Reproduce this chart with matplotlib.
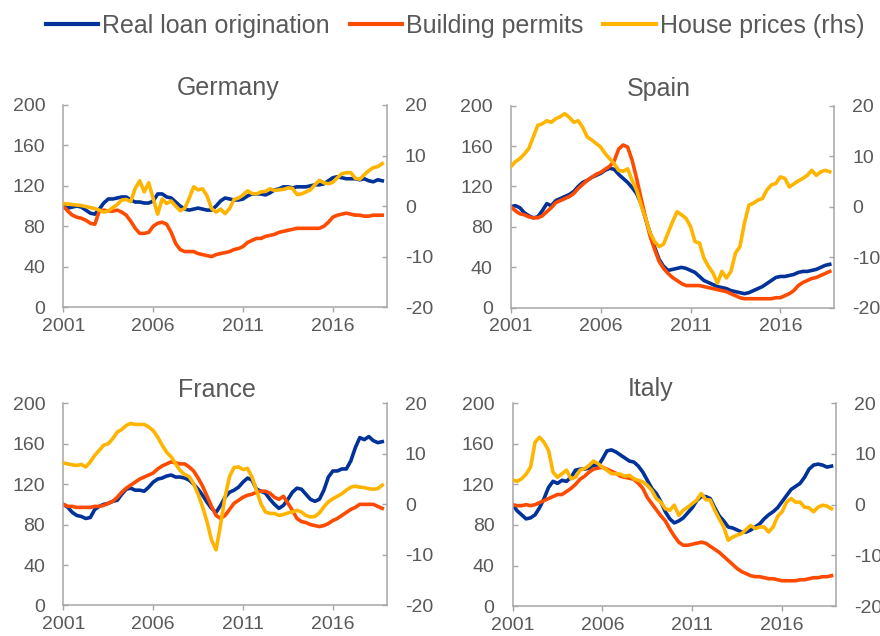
import matplotlib.pyplot as plt
import numpy as np

# quarterly observations, 2001Q1 .. 2018Q4
dates = 2001 + np.arange(72) / 4

countries = ["Germany", "Spain", "France", "Italy"]

# Real loan origination (index, lhs)
de_loans = [100, 98, 99, 100, 99, 96, 93, 92, 97, 103, 107, 107,
            108, 109, 109, 106, 104, 104, 103, 103, 105, 112, 112, 109,
            108, 104, 100, 97, 96, 97, 98, 97, 96, 96, 100, 105,
            108, 107, 106, 106, 107, 110, 112, 112, 112, 111, 113, 116,
            117, 119, 119, 118, 119, 119, 119, 120, 121, 121, 122, 125,
            128, 129, 128, 127, 127, 127, 126, 127, 125, 124, 126, 125]
es_loans = [100, 101, 99, 94, 91, 89, 90, 96, 103, 101, 106, 108,
            110, 112, 115, 120, 124, 126, 129, 131, 133, 136, 138, 137,
            132, 128, 124, 119, 113, 103, 88, 74, 60, 48, 41, 37,
            38, 39, 40, 39, 37, 35, 31, 27, 25, 23, 21, 20,
            19, 17, 16, 15, 14, 15, 17, 19, 21, 24, 27, 30,
            31, 31, 32, 33, 35, 36, 36, 37, 38, 40, 42, 43]
fr_loans = [100, 97, 92, 89, 88, 86, 87, 95, 98, 100, 101, 103,
            104, 110, 115, 116, 114, 114, 113, 117, 122, 125, 126, 128,
            129, 127, 127, 126, 124, 120, 115, 109, 102, 96, 92, 99,
            107, 112, 114, 117, 122, 126, 124, 115, 113, 111, 105, 100,
            96, 99, 105, 112, 116, 115, 110, 105, 103, 105, 114, 127,
            133, 133, 135, 135, 143, 156, 166, 164, 167, 163, 161, 162]
it_loans = [100, 94, 90, 86, 87, 90, 97, 106, 117, 123, 121, 124,
            123, 127, 134, 135, 135, 136, 139, 138, 145, 153, 154, 152,
            149, 146, 143, 142, 138, 132, 124, 116, 111, 103, 93, 86,
            82, 84, 87, 92, 97, 104, 108, 108, 106, 97, 89, 84,
            78, 77, 75, 73, 73, 75, 78, 81, 86, 90, 93, 97,
            103, 109, 115, 118, 121, 127, 135, 139, 140, 139, 137, 138]

# Building permits (index, lhs)
de_permits = [100, 95, 91, 89, 88, 86, 83, 82, 95, 96, 95, 95,
              96, 94, 91, 85, 78, 73, 73, 74, 80, 83, 84, 82,
              74, 63, 57, 55, 55, 55, 53, 52, 51, 50, 52, 53,
              54, 55, 57, 58, 60, 64, 66, 68, 68, 70, 71, 72,
              74, 75, 76, 77, 78, 78, 78, 78, 78, 78, 80, 84,
              89, 91, 92, 93, 92, 91, 91, 90, 90, 91, 91, 91]
es_permits = [100, 96, 93, 92, 90, 89, 89, 91, 95, 99, 104, 106,
              108, 110, 113, 118, 122, 126, 129, 132, 134, 137, 140, 145,
              157, 161, 159, 146, 128, 108, 89, 71, 58, 46, 39, 34,
              30, 27, 24, 22, 22, 22, 22, 21, 20, 19, 18, 17,
              16, 14, 12, 10, 9, 9, 9, 9, 9, 9, 9, 10,
              10, 12, 14, 17, 22, 25, 27, 29, 30, 32, 34, 36]
fr_permits = [100, 98, 98, 97, 97, 97, 97, 98, 98, 99, 101, 103,
              107, 112, 116, 119, 122, 125, 127, 129, 131, 135, 138, 140,
              142, 141, 140, 140, 137, 133, 126, 118, 108, 98, 89, 86,
              89, 95, 101, 104, 107, 109, 110, 112, 113, 113, 111, 107,
              105, 108, 101, 94, 86, 83, 82, 80, 79, 78, 79, 81,
              84, 86, 89, 92, 95, 97, 100, 100, 100, 100, 98, 96]
it_permits = [100, 99, 99, 100, 99, 100, 102, 104, 106, 108, 110, 110,
              113, 116, 120, 125, 128, 132, 135, 136, 137, 135, 133, 131,
              128, 127, 126, 125, 121, 116, 107, 101, 95, 89, 84, 76,
              69, 63, 60, 60, 61, 62, 63, 62, 59, 56, 53, 49,
              45, 41, 37, 34, 32, 30, 29, 29, 28, 27, 27, 26,
              25, 25, 25, 25, 26, 26, 27, 28, 28, 29, 29, 30]

# House prices (% y/y, rhs)
de_prices = [0.5, 0.4, 0.3, 0.2, 0.1, -0.1, -0.3, -0.5, -0.8, -1.2, -1.0, -0.3,
             0.3, 1.2, 1.3, 0.9, 3.5, 5.0, 2.8, 4.6, 1.5, -1.6, 1.4, 0.5,
             1.0, 0.0, -0.9, -0.5, 1.5, 3.8, 3.2, 3.4, 2.0, -0.5, -1.2, -0.6,
             -1.5, -0.5, 1.3, 1.6, 2.2, 3.0, 2.5, 2.4, 2.8, 2.9, 3.4, 3.1,
             3.2, 3.3, 3.6, 3.5, 2.3, 2.4, 2.8, 3.2, 4.2, 5.1, 4.6, 4.4,
             4.7, 5.6, 6.4, 6.6, 6.6, 5.5, 5.3, 6.2, 7.0, 7.6, 7.8, 8.4]
es_prices = [7.9, 8.9, 9.5, 10.4, 11.5, 13.8, 16.1, 16.4, 17.0, 16.7, 17.4, 17.8,
             18.4, 17.7, 16.7, 17.0, 15.7, 13.8, 13.2, 12.5, 11.8, 10.5, 9.5, 8.5,
             7.2, 7.0, 7.5, 5.2, 3.3, 0.3, -2.3, -5.2, -6.9, -7.9, -7.4, -5.2,
             -3.0, -1.0, -1.6, -2.3, -3.9, -6.9, -7.2, -10.2, -11.8, -13.1, -15.1, -12.8,
             -14.1, -12.8, -9.2, -7.9, -3.3, 0.3, 0.7, 1.3, 1.6, 3.3, 4.3, 4.6,
             5.9, 5.6, 3.9, 4.5, 5.1, 5.6, 6.2, 7.2, 6.2, 6.9, 7.2, 6.9]
fr_prices = [8.2, 8.0, 7.8, 7.7, 7.9, 7.4, 8.4, 9.7, 10.7, 11.7, 12.0, 13.0,
             14.3, 14.8, 15.6, 16.0, 15.8, 15.8, 15.8, 15.3, 14.6, 13.3, 11.7, 10.3,
             9.4, 8.0, 6.7, 5.9, 5.5, 4.1, 2.0, -0.5, -3.5, -7.1, -9.0, -4.0,
             1.5, 5.5, 7.3, 7.4, 6.9, 7.1, 5.4, 2.8, 0.1, -1.5, -1.8, -1.8,
             -2.2, -2.0, -1.7, -1.5, -1.2, -1.5, -2.2, -2.5, -2.4, -1.7, -0.5, 0.5,
             1.1, 1.6, 2.1, 2.8, 3.4, 3.6, 3.4, 3.3, 3.1, 3.0, 3.1, 3.8]
it_prices = [4.9, 4.6, 5.1, 6.0, 7.4, 12.3, 13.3, 12.3, 10.7, 6.4, 5.4, 6.1,
             6.8, 5.1, 5.4, 6.8, 7.1, 7.7, 8.6, 8.1, 7.4, 6.8, 6.1, 6.1,
             6.0, 5.6, 5.8, 5.1, 4.8, 4.5, 3.8, 2.8, 1.2, 0.5, -0.8, -1.1,
             -0.1, -2.1, -1.1, -0.5, 0.2, 0.9, 2.2, 1.0, 0.9, -1.1, -2.8, -4.4,
             -7.0, -6.4, -6.0, -5.7, -4.9, -4.1, -4.7, -4.4, -4.4, -5.4, -4.4, -2.3,
             -1.4, 0.5, 1.2, 0.5, 0.5, -0.5, -0.6, -1.4, -0.5, -0.1, -0.3, -0.8]

loans = [de_loans, es_loans, fr_loans, it_loans]
permits = [de_permits, es_permits, fr_permits, it_permits]
prices = [de_prices, es_prices, fr_prices, it_prices]

blue = "#003299"
orange = "#FF4B00"
yellow = "#FFB400"
grey_txt = "#595959"
grey_ax = "#A6A6A6"

plt.rcParams["font.family"] = ["Liberation Sans", "DejaVu Sans"]
plt.rcParams["axes.unicode_minus"] = False  # plain hyphen like the original

fig = plt.figure(figsize=(8.8, 6.36), dpi=100)

# panel boxes in figure fractions
boxes = [[0.072, 0.517, 0.3675, 0.318],
         [0.5805, 0.516, 0.3675, 0.318],
         [0.072, 0.048, 0.3675, 0.318],
         [0.5825, 0.047, 0.3675, 0.319]]
title_x = [0.51, 0.458, 0.474, 0.427]
title_pad = [7, 7, 4.5, 5]

handles = []
for i, name in enumerate(countries):
    ax = fig.add_axes(boxes[i])
    ax2 = ax.twinx()

    l1, = ax.plot(dates, loans[i], color=blue, lw=2.6, label="Real loan origination")
    l2, = ax.plot(dates, permits[i], color=orange, lw=2.6, label="Building permits")
    l3, = ax2.plot(dates, prices[i], color=yellow, lw=2.6, label="House prices (rhs)")
    if i == 0:
        handles = [l1, l2, l3]

    ax.set_xlim(2001, 2019)
    ax.set_ylim(0, 200)
    ax2.set_ylim(-20, 20)
    ax.set_xticks([2001, 2006, 2011, 2016])
    ax.set_yticks(np.arange(0, 201, 40))
    ax2.set_yticks([-20, -10, 0, 10, 20])

    for a in (ax, ax2):
        a.spines["top"].set_visible(False)
        for s in a.spines.values():
            s.set_color(grey_ax)
            s.set_linewidth(1.1)
    ax.spines["right"].set_visible(False)
    ax2.spines["left"].set_visible(False)
    ax2.spines["bottom"].set_visible(False)

    ax.tick_params(axis="y", direction="in", length=3.5, width=1, pad=13,
                   color=grey_ax, labelcolor=grey_txt, labelsize=14)
    ax.tick_params(axis="x", direction="out", length=3.5, width=1, pad=4,
                   color=grey_ax, labelcolor=grey_txt, labelsize=14)
    ax2.tick_params(axis="y", direction="in", length=3.5, width=1, pad=13,
                    color=grey_ax, labelcolor=grey_txt, labelsize=14)

    ax.set_title(name, x=title_x[i], pad=title_pad[i], fontsize=18, color=grey_txt)

fig.legend(handles=handles, loc="center", bbox_to_anchor=(0.517, 0.959), ncol=3,
           frameon=False, fontsize=18, handlelength=2.1, handletextpad=0.15,
           columnspacing=0.8, labelcolor=grey_txt, borderaxespad=0)
for h in fig.legends[0].get_lines():
    h.set_linewidth(3)

fig.savefig("out.png", dpi=100)
